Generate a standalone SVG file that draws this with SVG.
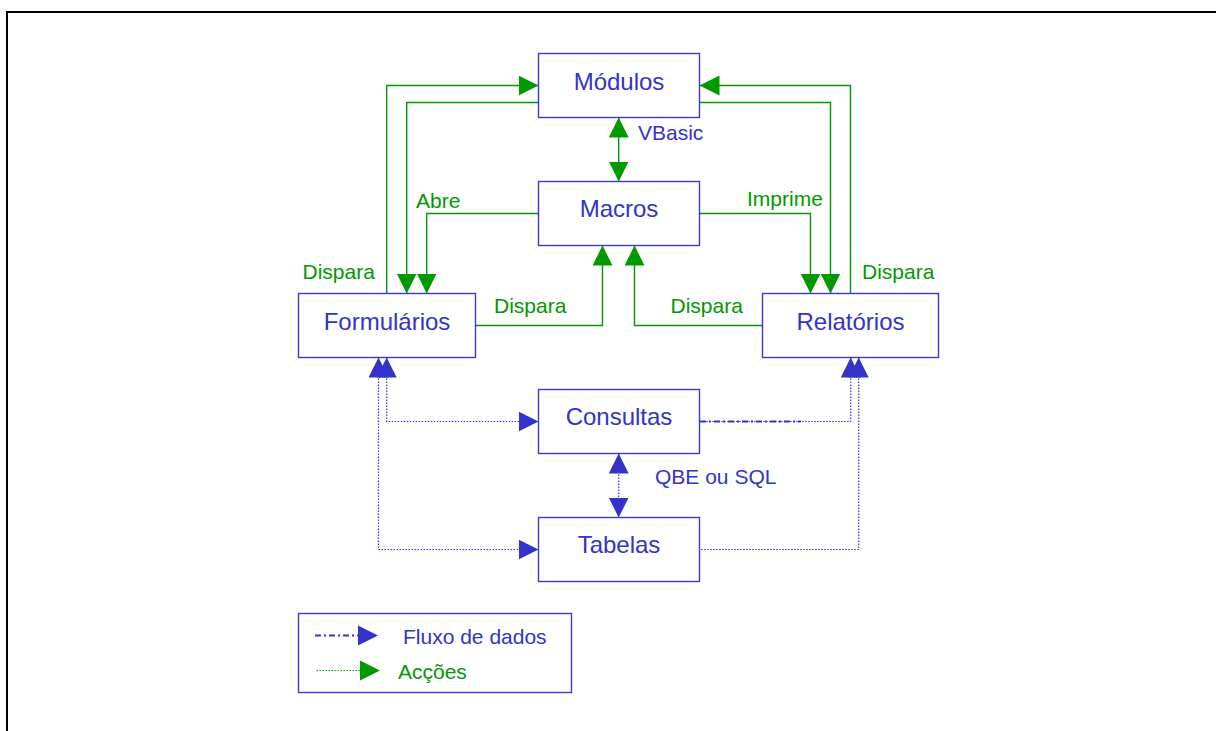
<svg xmlns="http://www.w3.org/2000/svg" width="1216" height="731" viewBox="0 0 1216 731">
<style>
.box{fill:#fff;stroke:#3a3acc;stroke-width:1.4}
.t{font-family:"Liberation Sans",Arial,sans-serif;font-size:24px;fill:#3333cc;text-anchor:middle}
.lg{font-family:"Liberation Sans",Arial,sans-serif;font-size:21px;fill:#009900}
.lb{font-family:"Liberation Sans",Arial,sans-serif;font-size:21px;fill:#3333cc}
.g{fill:none;stroke:#009900;stroke-width:1.4}
.b{fill:none;stroke:#3333cc;stroke-width:1.2;stroke-dasharray:1.5 1.5}
.bd{fill:none;stroke:#3333cc;stroke-width:2;stroke-dasharray:6 3 2 3}
</style>
<defs>
<marker id="ag" markerUnits="userSpaceOnUse" markerWidth="20" markerHeight="20" refX="20" refY="10" orient="auto-start-reverse" viewBox="0 0 20 20">
<path d="M0,0 L20,10 L0,20 z" fill="#009900"/>
</marker>
<marker id="ab" markerUnits="userSpaceOnUse" markerWidth="20" markerHeight="20" refX="20" refY="10" orient="auto-start-reverse" viewBox="0 0 20 20">
<path d="M0,0 L20,10 L0,20 z" fill="#3333cc"/>
</marker>
</defs>
<rect width="1216" height="731" fill="#fff"/>
<path d="M7,731 V12 H1216" fill="none" stroke="#000" stroke-width="2"/>

<g id="connectors">
<path class="g" d="M386.7,293.5 V85.5 H538.5" marker-end="url(#ag)"/>
<path class="g" d="M538.5,102.5 H406.7 V293.5" marker-end="url(#ag)"/>
<path class="g" d="M538.5,213.5 H426.7 V293.5" marker-end="url(#ag)"/>
<path class="g" d="M475,325.5 H602.5 V245.5" marker-end="url(#ag)"/>
<path class="g" d="M850.5,293.5 V85.5 H699.5" marker-end="url(#ag)"/>
<path class="g" d="M699.5,102.5 H830.5 V293.5" marker-end="url(#ag)"/>
<path class="g" d="M699.5,213.5 H810.5 V293.5" marker-end="url(#ag)"/>
<path class="g" d="M762.5,325.5 H634.5 V245.5" marker-end="url(#ag)"/>
<path class="g" d="M618.7,117.5 V181.5" marker-start="url(#ag)" marker-end="url(#ag)"/>

<path class="b" d="M378.5,357.5 V549.5 H538.5" marker-start="url(#ab)" marker-end="url(#ab)"/>
<path class="b" d="M386.7,357.5 V421.5 H538.5" marker-start="url(#ab)" marker-end="url(#ab)"/>
<path class="b" d="M858.7,357.5 V549.5 H699.5" marker-start="url(#ab)"/>
<path class="b" d="M850.7,357.5 V421.5 H699.5" marker-start="url(#ab)"/>
<path class="bd" d="M700,421.5 H801"/>
<path class="b" d="M618.7,453.5 V517.5" marker-start="url(#ab)" marker-end="url(#ab)"/>

<text class="lg" x="302.5" y="279">Dispara</text>
<text class="lg" x="416" y="208">Abre</text>
<text class="lg" x="494" y="313">Dispara</text>
<text class="lg" x="747" y="206">Imprime</text>
<text class="lg" x="862" y="279">Dispara</text>
<text class="lg" x="670.5" y="313">Dispara</text>
<text class="lb" x="638" y="140">VBasic</text>
<text class="lb" x="655" y="484">QBE ou SQL</text>
</g>

<g id="modulos"><rect class="box" x="538.5" y="53.5" width="161" height="64"/><text class="t" x="619" y="89.5">Módulos</text></g>
<g id="macros"><rect class="box" x="538.5" y="181.5" width="161" height="64"/><text class="t" x="619" y="217">Macros</text></g>
<g id="formularios"><rect class="box" x="298.5" y="293.5" width="177" height="64"/><text class="t" x="387" y="329.5">Formulários</text></g>
<g id="relatorios"><rect class="box" x="762.5" y="293.5" width="176" height="64"/><text class="t" x="850.5" y="329.5">Relatórios</text></g>
<g id="consultas"><rect class="box" x="538.5" y="389.5" width="161" height="64"/><text class="t" x="619" y="425">Consultas</text></g>
<g id="tabelas"><rect class="box" x="538.5" y="517.5" width="161" height="64"/><text class="t" x="619" y="553">Tabelas</text></g>

<g id="legend">
<rect class="box" x="298.5" y="613.5" width="273" height="79"/>
<path class="bd" d="M315,635.5 H358" stroke-width="1.6"/>
<path d="M358,625.5 L378,635.5 L358,645.5 z" fill="#3333cc"/>
<path d="M316.5,670.5 H360" fill="none" stroke="#00aa00" stroke-width="1.2" stroke-dasharray="1.5 1.5"/>
<path d="M360,660.5 L380,670.5 L360,680.5 z" fill="#009900"/>
<text class="lb" x="403" y="644">Fluxo de dados</text>
<text class="lg" x="398" y="679">Acções</text>
</g>
</svg>
